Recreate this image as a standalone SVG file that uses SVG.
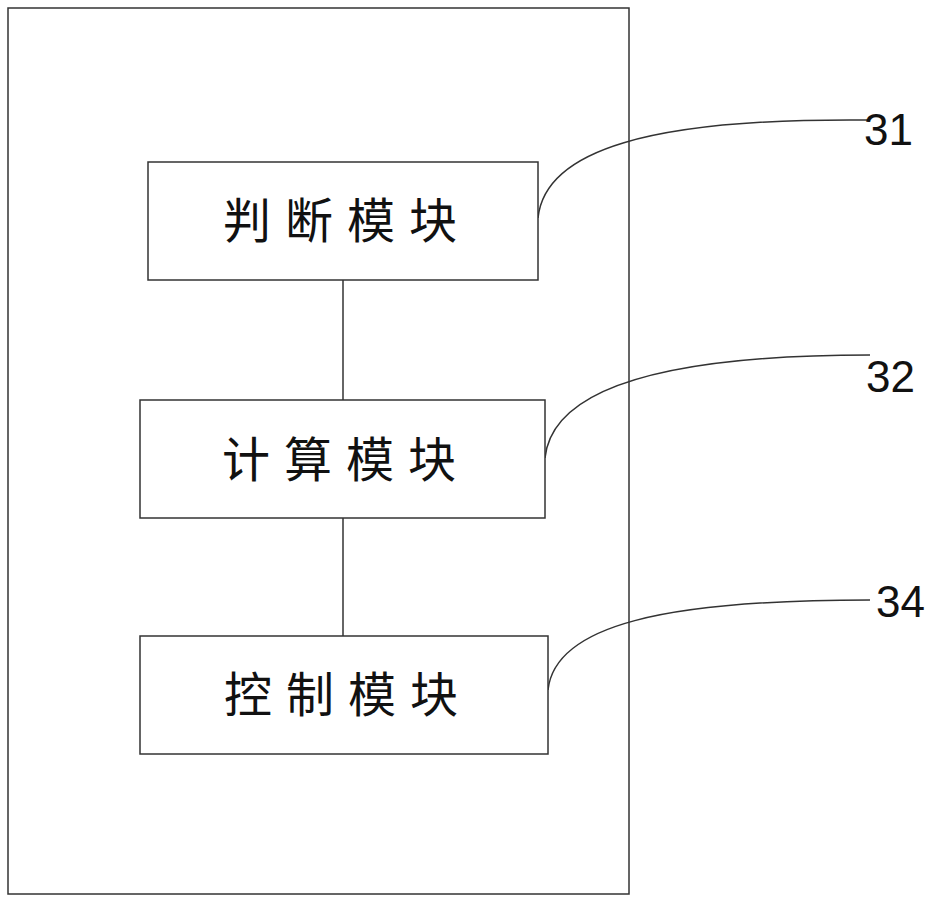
<svg xmlns="http://www.w3.org/2000/svg" width="940" height="901" viewBox="0 0 940 901">
<style>
.b{fill:#fff;stroke:#333;stroke-width:1.5}
.t{font-family:"Noto Sans CJK SC",sans-serif;font-size:48px;fill:#111;text-anchor:middle;letter-spacing:14px}
.n{font-family:"Liberation Sans Narrow","Liberation Sans",sans-serif;font-size:44px;fill:#111}
.c{fill:none;stroke:#333;stroke-width:1.5}
</style>
<rect width="940" height="901" fill="#fff"/>
<rect id="outer" class="b" x="8" y="8" width="621" height="886"/>
<g id="connectors">
<line class="c" x1="343" y1="280" x2="343" y2="400"/>
<line class="c" x1="343" y1="518" x2="343" y2="636"/>
<path class="c" d="M538,218 C545,150 650,118 868,120"/>
<path class="c" d="M545,458 C552,390 660,355 870,355"/>
<path class="c" d="M548,690 C555,625 665,600 870,600"/>
</g>
<g id="n1"><rect class="b" x="148" y="162" width="390" height="118"/><text class="t" x="347" y="238">判断模块</text></g>
<g id="n2"><rect class="b" x="140" y="400" width="405" height="118"/><text class="t" x="346" y="477">计算模块</text></g>
<g id="n3"><rect class="b" x="140" y="636" width="408" height="118"/><text class="t" x="348" y="712">控制模块</text></g>
<text class="n" x="864" y="145">31</text>
<text class="n" x="866" y="392">32</text>
<text class="n" x="876" y="617">34</text>
</svg>
